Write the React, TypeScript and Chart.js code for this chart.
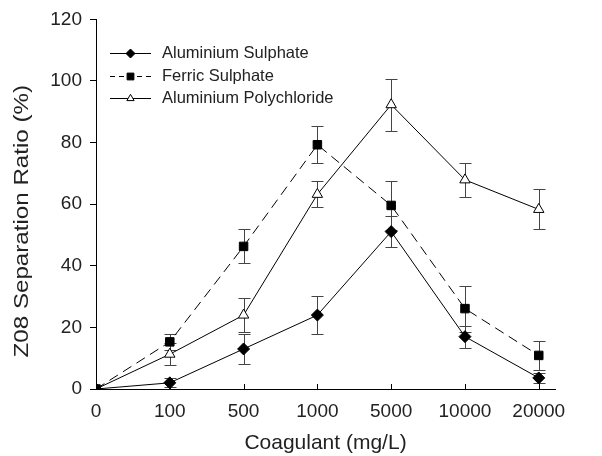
import React, { useEffect, useRef } from 'react';
import { Chart, registerables } from 'chart.js';
import { drawPoint } from 'chart.js/helpers';
Chart.register(...registerables);

const categories = ['0', '100', '500', '1000', '5000', '10000', '20000'];
const alSulphate = [0, 2, 13, 24, 51.1, 17, 3.6];
const alSulphateErr = [0, 1.5, 5, 6.3, 5, 3.6, 1.5];
const ferricSulphate = [0, 15.3, 46.3, 79.3, 59.6, 26.1, 10.9];
const ferricSulphateErr = [0, 2.5, 5.5, 6, 8, 7.5, 4.7];
const polyChloride = [0, 11.3, 24, 63.2, 92.3, 67.9, 58.3];
const polyChlorideErr = [0, 3.5, 5.5, 4.2, 8.5, 5.5, 6.5];
const yTicks = [0, 20, 40, 60, 80, 100, 120];
const yTitle = 'Z08 Separation Ratio (%)';
const xTitle = 'Coagulant (mg/L)';

const FONT = "'Liberation Sans', Arial, Helvetica, sans-serif";
const TEXT = '#222';

const toPoints = (vals: number[]) => vals.map((v, i) => ({ x: i, y: v }));

const errorBarPlugin = {
  id: 'errorBars',
  beforeDatasetsDraw(chart: any) {
    const { ctx, scales } = chart;
    const xs = scales.x, ys = scales.y;
    ctx.save();
    ctx.strokeStyle = '#444';
    ctx.lineWidth = 1;
    chart.data.datasets.forEach((ds: any) => {
      const errs: number[] = ds.errors || [];
      ds.data.forEach((p: any, i: number) => {
        const e = errs[i];
        if (!e) return;
        const x = Math.round(xs.getPixelForValue(p.x)) + 0.5;
        const yt = Math.round(ys.getPixelForValue(p.y + e)) + 0.5;
        const yb = Math.round(ys.getPixelForValue(p.y - e)) + 0.5;
        ctx.beginPath();
        ctx.moveTo(x, yt); ctx.lineTo(x, yb);
        ctx.moveTo(x - 6, yt); ctx.lineTo(x + 6, yt);
        ctx.moveTo(x - 6, yb); ctx.lineTo(x + 6, yb);
        ctx.stroke();
      });
    });
    ctx.restore();
  },
};

const innerTicksPlugin = {
  id: 'innerTicks',
  afterDraw(chart: any) {
    const { ctx, scales } = chart;
    const xs = scales.x;
    const bottom = chart.chartArea.bottom;
    ctx.save();
    ctx.strokeStyle = '#000';
    ctx.lineWidth = 1;
    xs.ticks.forEach((t: any) => {
      if (t.value <= 0) return;
      const x = Math.round(xs.getPixelForValue(t.value)) + 0.5;
      ctx.beginPath();
      ctx.moveTo(x, bottom);
      ctx.lineTo(x, bottom - 5);
      ctx.stroke();
    });
    ctx.restore();
  },
};

const yTitlePlugin = {
  id: 'yTitle',
  afterDraw(chart: any) {
    const { ctx, chartArea } = chart;
    ctx.save();
    ctx.translate(22.6, (chartArea.top + chartArea.bottom) / 2 + 17);
    ctx.rotate(-Math.PI / 2);
    ctx.scale(1.15, 1);
    ctx.font = `21px ${FONT}`;
    ctx.fillStyle = TEXT;
    ctx.textAlign = 'center';
    ctx.textBaseline = 'middle';
    ctx.fillText(yTitle, 0, 0);
    ctx.restore();
  },
};

const legendPlugin = {
  id: 'customLegend',
  afterDraw(chart: any) {
    const { ctx, chartArea } = chart;
    const x1 = chartArea.left + 14;
    const x2 = chartArea.left + 55;
    const tx = chartArea.left + 66;
    const y0 = chartArea.top + 34;
    const step = 22.3;
    ctx.save();
    chart.data.datasets.forEach((ds: any, i: number) => {
      const y = Math.round(y0 + i * step) + 0.5;
      ctx.strokeStyle = ds.borderColor;
      ctx.lineWidth = 1;
      ctx.setLineDash(ds.borderDash ? [5, 4] : []);
      ctx.beginPath();
      ctx.moveTo(x1, y);
      ctx.lineTo(x2, y);
      ctx.stroke();
      ctx.setLineDash([]);
      ctx.fillStyle = ds.pointBackgroundColor;
      ctx.strokeStyle = ds.pointBorderColor;
      ctx.lineWidth = 1;
      drawPoint(ctx, { pointStyle: ds.pointStyle, radius: ds.legendRadius, rotation: 0, borderWidth: 1 }, (x1 + x2) / 2, y);
      ctx.fillStyle = TEXT;
      ctx.font = `16.5px ${FONT}`;
      ctx.textBaseline = 'middle';
      ctx.textAlign = 'left';
      ctx.fillText(ds.label, tx, y);
    });
    ctx.restore();
  },
};

export default function App() {
  const ref = useRef<HTMLCanvasElement>(null);
  useEffect(() => {
    if (!ref.current) return;
    const chart = new Chart(ref.current, {
      type: 'line',
      data: {
        datasets: [
          {
            label: 'Aluminium Sulphate',
            data: toPoints(alSulphate),
            errors: alSulphateErr,
            borderColor: '#000',
            borderWidth: 1,
            pointStyle: 'rectRot',
            pointRadius: 6,
            legendRadius: 4.5,
            pointBackgroundColor: '#000',
            pointBorderColor: '#000',
            pointBorderWidth: 1,
          } as any,
          {
            label: 'Ferric Sulphate',
            data: toPoints(ferricSulphate),
            errors: ferricSulphateErr,
            borderColor: '#000',
            borderWidth: 1,
            borderDash: [10, 6],
            pointStyle: 'rect',
            pointRadius: 6,
            legendRadius: 4.8,
            pointBackgroundColor: '#000',
            pointBorderColor: '#000',
            pointBorderWidth: 1,
          } as any,
          {
            label: 'Aluminium Polychloride',
            data: toPoints(polyChloride),
            errors: polyChlorideErr,
            borderColor: '#000',
            borderWidth: 1,
            pointStyle: 'triangle',
            pointRadius: 6,
            legendRadius: 4.2,
            pointBackgroundColor: '#fff',
            pointBorderColor: '#000',
            pointBorderWidth: 1,
          } as any,
        ],
      },
      options: {
        animation: false,
        responsive: false,
        devicePixelRatio: 1,
        layout: { padding: { top: 18, right: 47, left: 0, bottom: 0 } },
        plugins: { legend: { display: false }, tooltip: { enabled: false } },
        scales: {
          x: {
            type: 'linear',
            min: 0,
            max: 6.22,
            afterBuildTicks: (s: any) => {
              s.ticks = categories.map((_, i) => ({ value: i }));
            },
            afterFit: (s: any) => { s.height = 67; },
            ticks: {
              callback: (v: any) => categories[v] ?? '',
              font: { family: FONT, size: 19 },
              color: TEXT,
              padding: 11,
              maxRotation: 0,
              autoSkip: false,
            },
            grid: { drawOnChartArea: false, drawTicks: false },
            border: { display: true, color: '#000', width: 1 },
            title: {
              display: true,
              text: xTitle,
              font: { family: FONT, size: 21 },
              color: TEXT,
              padding: { top: 0, bottom: 0 },
            },
          },
          y: {
            type: 'linear',
            min: 0,
            max: 120,
            afterBuildTicks: (s: any) => {
              s.ticks = yTicks.map((v) => ({ value: v }));
            },
            afterFit: (s: any) => { s.width = 96; },
            ticks: {
              font: { family: FONT, size: 19 },
              color: TEXT,
              padding: 8,
            },
            grid: { drawOnChartArea: false, drawTicks: true, tickLength: 6, color: '#000' },
            border: { display: true, color: '#000', width: 1 },
            title: { display: false },
          },
        },
      } as any,
      plugins: [errorBarPlugin, innerTicksPlugin, legendPlugin, yTitlePlugin],
    });
    return () => chart.destroy();
  }, []);
  return (
    <div style={{ position: 'fixed', left: 0, top: 0, width: 602, height: 456, background: '#fff' }}>
      <canvas ref={ref} width={602} height={456} style={{ width: 602, height: 456 }} />
    </div>
  );
}
